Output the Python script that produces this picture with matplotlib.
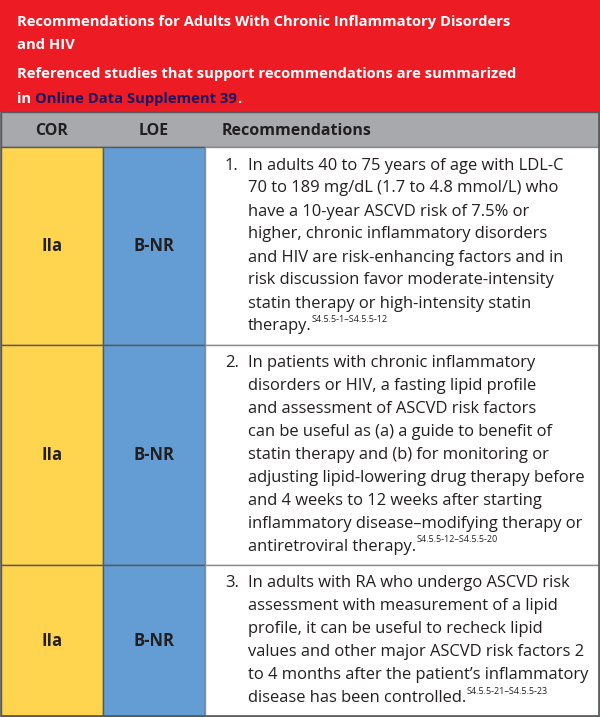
import matplotlib
matplotlib.use("Agg")
import matplotlib.pyplot as plt
from matplotlib.patches import Rectangle

plt.rcParams['font.family'] = ['Open Sans', 'DejaVu Sans']

# table content
title_lines = ["Recommendations for Adults With Chronic Inflammatory Disorders", "and HIV"]
note_line1 = "Referenced studies that support recommendations are summarized"
note_pre, note_link, note_post = "in ", "Online Data Supplement 39", "."
headers = ["COR", "LOE", "Recommendations"]
cor = ["IIa", "IIa", "IIa"]
loe = ["B-NR", "B-NR", "B-NR"]
rec_lines = [
    ["In adults 40 to 75 years of age with LDL-C",
     "70 to 189 mg/dL (1.7 to 4.8 mmol/L) who",
     "have a 10-year ASCVD risk of 7.5% or",
     "higher, chronic inflammatory disorders",
     "and HIV are risk-enhancing factors and in",
     "risk discussion favor moderate-intensity",
     "statin therapy or high-intensity statin",
     "therapy."],
    ["In patients with chronic inflammatory",
     "disorders or HIV, a fasting lipid profile",
     "and assessment of ASCVD risk factors",
     "can be useful as (a) a guide to benefit of",
     "statin therapy and (b) for monitoring or",
     "adjusting lipid-lowering drug therapy before",
     "and 4 weeks to 12 weeks after starting",
     "inflammatory disease\u2013modifying therapy or",
     "antiretroviral therapy."],
    ["In adults with RA who undergo ASCVD risk",
     "assessment with measurement of a lipid",
     "profile, it can be useful to recheck lipid",
     "values and other major ASCVD risk factors 2",
     "to 4 months after the patient\u2019s inflammatory",
     "disease has been controlled."],
]
refs = ["S4.5.5-1\u2013S4.5.5-12", "S4.5.5-12\u2013S4.5.5-20", "S4.5.5-21\u2013S4.5.5-23"]

# layout (pixels)
W, H = 600, 717
col_x = [1, 103, 205, 599]
row_y = [147, 345, 565, 716]
red_bottom, head_top = 112, 112
line_h = 23

RED = "#ED1C24"
GRAY = "#A7A9AC"
YELLOW = "#FFD44F"
BLUE = "#649DD4"
NAVY = "#1B1464"
TXT = "#231F20"
DARK = "#58595B"

fig = plt.figure(figsize=(W / 100, H / 100), dpi=100)
ax = fig.add_axes([0, 0, 1, 1])
ax.set_xlim(0, W)
ax.set_ylim(H, 0)
ax.axis("off")

# red banner
ax.add_patch(Rectangle((0, 0), W, red_bottom, color=RED, lw=0))
fs_t = 10.6
ax.text(17, 22, title_lines[0], color="white", fontsize=fs_t, fontweight="bold", va="center")
ax.text(17, 45, title_lines[1], color="white", fontsize=fs_t, fontweight="bold", va="center")
ax.text(17, 74, note_line1, color="white", fontsize=fs_t, fontweight="bold", va="center")

fig.canvas.draw()
renderer = fig.canvas.get_renderer()
inv = ax.transData.inverted()


def right_edge(t):
    bb = t.get_window_extent(renderer=renderer)
    return inv.transform((bb.x1, bb.y0))[0]


t = ax.text(17, 99, note_pre, color="white", fontsize=fs_t, fontweight="bold", va="center")
x = right_edge(t)
t = ax.text(x, 99, note_link, color=NAVY, fontsize=fs_t, fontweight="bold", va="center")
x = right_edge(t)
ax.text(x, 99, note_post, color="white", fontsize=fs_t, fontweight="bold", va="center")

# header row
ax.add_patch(Rectangle((col_x[0], head_top), col_x[3] - col_x[0], row_y[0] - head_top,
                       facecolor=GRAY, edgecolor=DARK, lw=1))
ax.text((col_x[0] + col_x[1]) / 2, 131, headers[0], fontsize=11.5, fontweight="bold", color=TXT,
        ha="center", va="center")
ax.text((col_x[1] + col_x[2]) / 2, 131, headers[1], fontsize=11.5, fontweight="bold", color=TXT,
        ha="center", va="center")
ax.text(222, 131, headers[2], fontsize=11.5, fontweight="bold", color=TXT, va="center")

fs_b = 11.9
for i in range(3):
    y0, y1 = row_y[i], row_y[i + 1]
    ax.add_patch(Rectangle((col_x[0], y0), col_x[1] - col_x[0], y1 - y0,
                           facecolor=YELLOW, edgecolor=DARK, lw=1))
    ax.add_patch(Rectangle((col_x[1], y0), col_x[2] - col_x[1], y1 - y0,
                           facecolor=BLUE, edgecolor=DARK, lw=1))
    ax.add_patch(Rectangle((col_x[2], y0), col_x[3] - col_x[2], y1 - y0,
                           facecolor="white", edgecolor="#8A8C8E", lw=1))
    ym = (y0 + y1) / 2
    ax.text((col_x[0] + col_x[1]) / 2, ym, cor[i], fontsize=12, fontweight="bold", color=TXT,
            ha="center", va="center")
    ax.text((col_x[1] + col_x[2]) / 2, ym, loe[i], fontsize=12, fontweight="bold", color=TXT,
            ha="center", va="center")

    lines = rec_lines[i]
    first = ym - (len(lines) - 1) * line_h / 2
    ax.text(225, first, f"{i + 1}.", fontsize=fs_b, color=TXT, va="center")
    for j, ln in enumerate(lines):
        t = ax.text(248, first + j * line_h, ln, fontsize=fs_b, color=TXT, va="center")
    x = right_edge(t)
    ax.text(x, first + (len(lines) - 1) * line_h - 7, refs[i], fontsize=6.5, color=TXT,
            va="center")

# outer frame
ax.add_patch(Rectangle((col_x[0], head_top), col_x[3] - col_x[0], row_y[3] - head_top,
                       fill=False, edgecolor=DARK, lw=1.2))

fig.savefig("out.png", dpi=100)
